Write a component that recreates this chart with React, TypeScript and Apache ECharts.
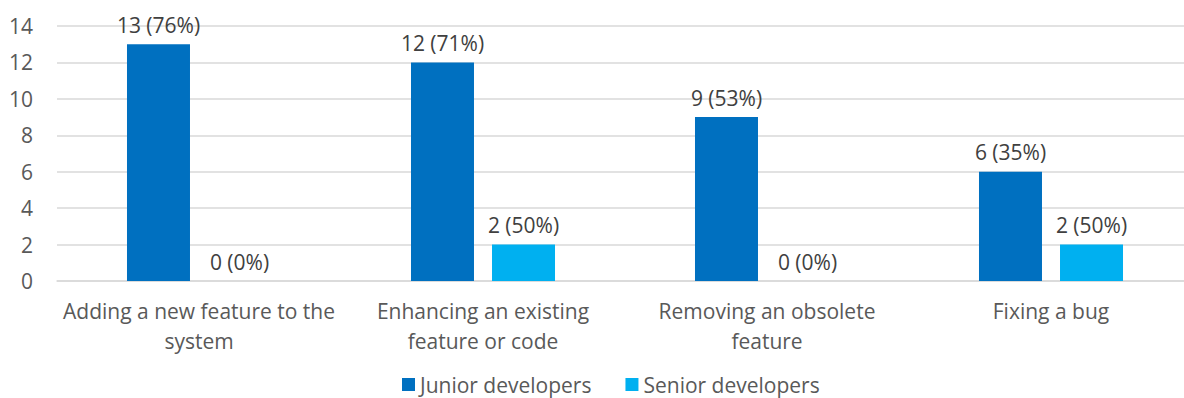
import React, { useEffect, useRef } from "react";
import * as echarts from "echarts";

const categories = [
  "Adding a new feature to the\nsystem",
  "Enhancing an existing\nfeature or code",
  "Removing an obsolete\nfeature",
  "Fixing a bug",
];
const juniorValues = [13, 12, 9, 6];
const juniorPct = [76, 71, 53, 35];
const seniorValues = [0, 2, 0, 2];
const seniorPct = [0, 50, 0, 50];
const yTicks = { min: 0, max: 14, interval: 2 };

const FONT = "Open Sans";
const FS = 21;

export default function App() {
  const ref = useRef<HTMLDivElement>(null);
  useEffect(() => {
    if (!ref.current) return;
    const chart = echarts.init(ref.current, null, { renderer: "svg" });
    chart.setOption({
      animation: false,
      textStyle: { fontFamily: FONT },
      grid: {
        left: 57,
        width: 1136,
        top: 26,
        bottom: 117,
        containLabel: false,
        outerBoundsMode: "none",
      },
      legend: {
        bottom: -2,
        left: 397,
        itemWidth: 13,
        itemHeight: 13,
        itemGap: 34,
        itemStyle: { borderWidth: 0 },
        icon: "rect",
        textStyle: { fontFamily: FONT, fontSize: FS, color: "#595959" },
        data: ["Junior developers", "Senior developers"],
      },
      xAxis: {
        type: "category",
        data: categories,
        axisLine: { show: true, lineStyle: { color: "#d9d9d9", width: 1.5 } },
        axisTick: { show: false },
        axisLabel: {
          interval: 0,
          color: "#595959",
          fontSize: FS,
          fontFamily: FONT,
          lineHeight: 30,
          margin: 15,
        },
      },
      yAxis: {
        type: "value",
        min: yTicks.min,
        max: yTicks.max,
        interval: yTicks.interval,
        axisLine: { show: false },
        axisTick: { show: false },
        splitLine: { lineStyle: { color: "#d9d9d9", width: 1.5 } },
        axisLabel: { color: "#595959", fontSize: FS, fontFamily: FONT, margin: 24 },
      },
      series: [
        {
          name: "Junior developers",
          type: "bar",
          data: juniorValues,
          barWidth: 63,
          barGap: "28.6%",
          itemStyle: { color: "#0070C0" },
          label: {
            show: true,
            position: "top",
            distance: 9,
            color: "#404040",
            fontSize: FS,
            fontFamily: FONT,
            formatter: (p: any) => `${p.value} (${juniorPct[p.dataIndex]}%)`,
          },
        },
        {
          name: "Senior developers",
          type: "bar",
          data: seniorValues,
          barWidth: 63,
          barGap: "28.6%",
          itemStyle: { color: "#00B0F0" },
          label: {
            show: true,
            position: "top",
            distance: 9,
            color: "#404040",
            fontSize: FS,
            fontFamily: FONT,
            formatter: (p: any) => `${p.value} (${seniorPct[p.dataIndex]}%)`,
          },
        },
      ],
    });
    return () => chart.dispose();
  }, []);
  return (
    <div
      ref={ref}
      style={{ position: "fixed", left: 0, top: 0, width: 1184, height: 398, background: "#fff" }}
    />
  );
}
